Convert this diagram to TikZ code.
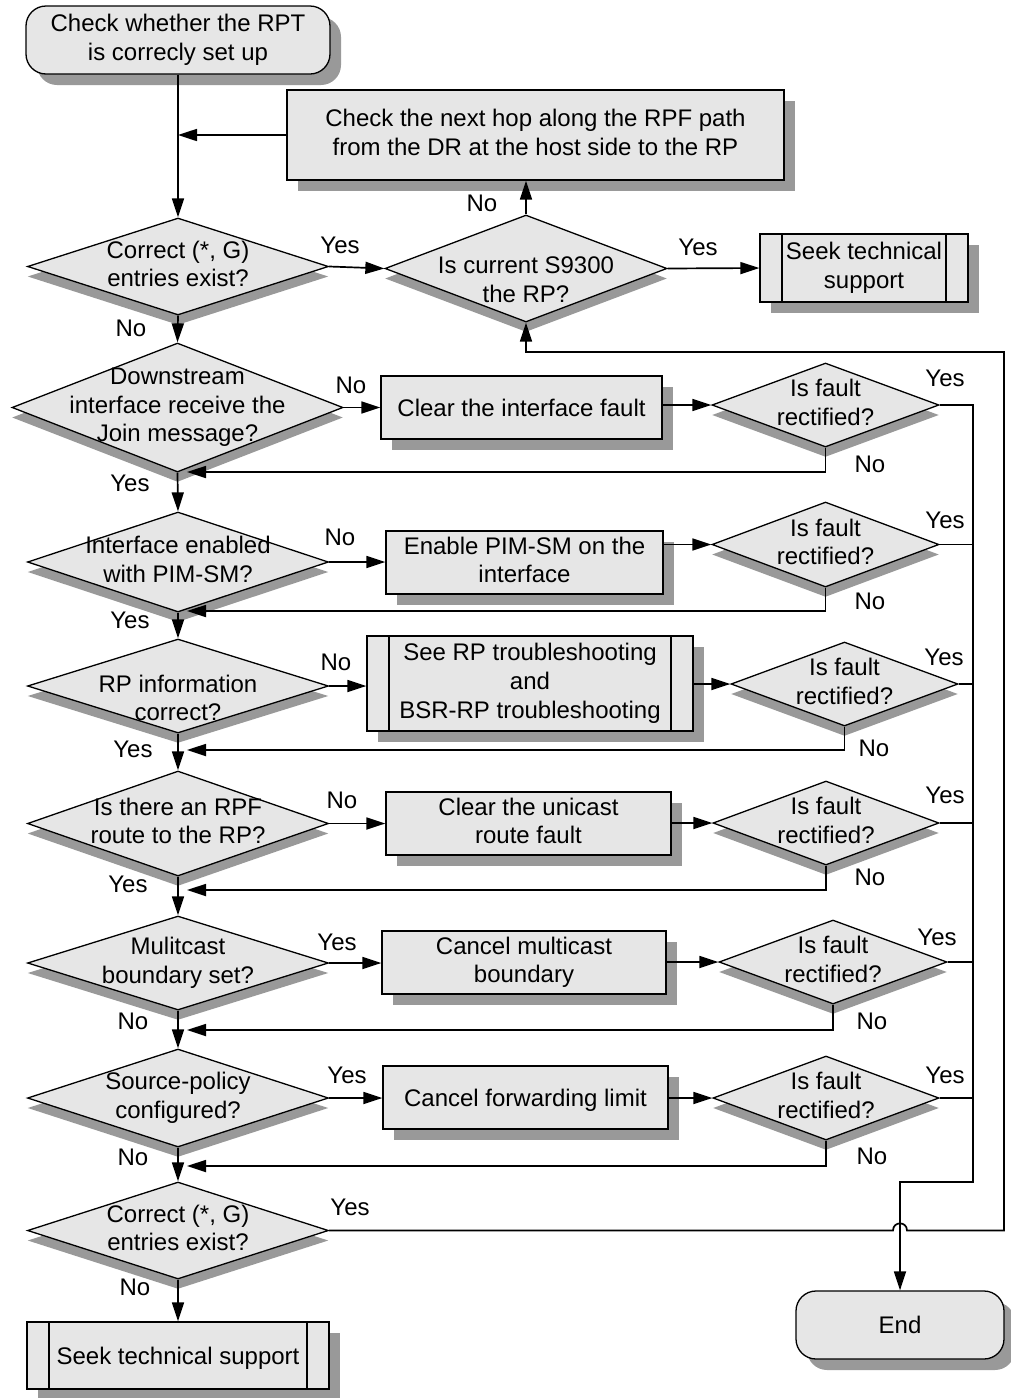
\documentclass[tikz,border=0pt]{standalone}
\usepackage{fontspec}
\setmainfont{Liberation Sans}
\usetikzlibrary{shapes.geometric,shadows,arrows.meta}
\definecolor{boxfill}{RGB}{230,230,230}
\definecolor{shadowc}{RGB}{153,153,153}
% strut that centres a text block on its cap height
\newcommand\lstrut{\rule[-5.3pt]{0pt}{27.8pt}}
\begin{document}
\begin{tikzpicture}[x=1pt,y=-1pt,
  every node/.style={font=\fontsize{24pt}{28.8pt}\selectfont},
  txt/.style={align=center, inner sep=0pt, execute at begin node=\lstrut, execute at end node=\lstrut},
  shapebase/.style={draw, line width=1.3pt, fill=boxfill, inner sep=0pt},
  box/.style={shapebase, txt, rectangle,
    drop shadow={shadow xshift=11pt, shadow yshift=-11pt, fill=shadowc, opacity=1}},
  term/.style={box, rounded corners=20pt},
  proc/.style={box, path picture={
    \draw[line width=1.3pt]
      ([xshift=22pt]path picture bounding box.north west) -- ([xshift=22pt]path picture bounding box.south west)
      ([xshift=-22pt]path picture bounding box.north east) -- ([xshift=-22pt]path picture bounding box.south east);}},
  dec/.style={shapebase, diamond,
    drop shadow={shadow xshift=0pt, shadow yshift=-10pt, fill=shadowc, opacity=1}},
  conn/.style={line width=1.7pt},
  arr/.style={conn, -{Triangle[length=19pt,width=12pt]}},
]
\useasboundingbox (0,0) rectangle (1011,1398);

% ---------- main column and side boxes ----------
\node[term, minimum width=304pt, minimum height=68pt] (start) at (178,40) {Check whether the RPT\\is correcly set up};
\node[box, minimum width=497pt, minimum height=90pt] (hop) at (535.5,135) {Check the next hop along the RPF path\\from the DR at the host side to the RP};

\node[dec, minimum width=301pt, minimum height=97pt] (q1) at (178,266.5) {};
\node[txt] (q1t) at (q1) {Correct (*, G)\\entries exist?};
\node[dec, minimum width=282pt, minimum height=107pt] (q2) at (526,268.5) {};
\node[txt] (q2t) at (526,282.5) {Is current S9300\\the RP?};
\node[proc, minimum width=208pt, minimum height=68pt] (seek1) at (864,268) {Seek technical\\support};

\node[dec, minimum width=331pt, minimum height=129pt] (q3) at (177.5,407.5) {};
\node[txt] (q3t) at (q3) {Downstream\\interface receive the\\Join message?};
\node[box, minimum width=281pt, minimum height=63pt] (fix1) at (521.5,407.5) {Clear the interface fault};
\node[dec, minimum width=227pt, minimum height=84pt] (f1) at (825.5,405) {};
\node[txt] (f1t) at (f1) {Is fault\\rectified?};

\node[dec, minimum width=301pt, minimum height=100pt] (q4) at (178,562) {};
\node[txt] (q4t) at (q4) {Interface enabled\\with PIM-SM?};
\node[box, minimum width=277pt, minimum height=63pt] (fix2) at (524.5,562.5) {Enable PIM-SM on the\\interface};
\node[dec, minimum width=227pt, minimum height=85pt] (f2) at (825.5,544.5) {};
\node[txt] (f2t) at (f2) {Is fault\\rectified?};

\node[dec, minimum width=301pt, minimum height=94pt] (q5) at (178,686) {};
\node[txt] (q5t) at (178,700.5) {RP information\\correct?};
\node[proc, minimum width=326pt, minimum height=95pt] (fix3) at (530,683.5) {See RP troubleshooting\\and\\BSR-RP troubleshooting};
\node[dec, minimum width=227pt, minimum height=84pt] (f3) at (844.5,684) {};
\node[txt] (f3t) at (f3) {Is fault\\rectified?};

\node[dec, minimum width=301pt, minimum height=105pt] (q6) at (178,823.5) {};
\node[txt] (q6t) at (q6) {Is there an RPF\\route to the RP?};
\node[box, minimum width=285pt, minimum height=63pt] (fix4) at (528.5,823.5) {Clear the unicast\\route fault};
\node[dec, minimum width=226pt, minimum height=84pt] (f4) at (826,823) {};
\node[txt] (f4t) at (f4) {Is fault\\rectified?};

\node[dec, minimum width=301pt, minimum height=94pt] (q7) at (178,963) {};
\node[txt] (q7t) at (q7) {Mulitcast\\boundary set?};
\node[box, minimum width=284pt, minimum height=63pt] (fix5) at (524,962.5) {Cancel multicast\\boundary};
\node[dec, minimum width=228pt, minimum height=84pt] (f5) at (833,962) {};
\node[txt] (f5t) at (f5) {Is fault\\rectified?};

\node[dec, minimum width=301pt, minimum height=98pt] (q8) at (178,1098) {};
\node[txt] (q8t) at (q8) {Source-policy\\configured?};
\node[box, minimum width=285pt, minimum height=63pt] (fix6) at (525.5,1097.5) {Cancel forwarding limit};
\node[dec, minimum width=226pt, minimum height=84pt] (f6) at (826,1098) {};
\node[txt] (f6t) at (f6) {Is fault\\rectified?};

\node[dec, minimum width=301pt, minimum height=97pt] (q9) at (178,1230.5) {};
\node[txt] (q9t) at (q9) {Correct (*, G)\\entries exist?};
\node[proc, minimum width=302pt, minimum height=67pt] (seek2) at (178,1355.5) {Seek technical support};
\node[term, minimum width=208pt, minimum height=68pt] (end) at (900,1325) {End};

% ---------- helper coordinates ----------
\coordinate (busBot) at (973,1182);
\coordinate (loopTop) at (1004,352);
\coordinate (ret1) at (187,472);
\coordinate (ret2) at (187,611);
\coordinate (ret3) at (187,750);
\coordinate (ret4) at (187,890);
\coordinate (ret5) at (187,1030);
\coordinate (ret6) at (187,1166);

% ---------- main flow ----------
\draw[arr] (start.south) -- (q1.north);
\draw[arr] (hop.west) -- (hop.west -| start.south);
\draw[arr] (q1.east) -- (q2.west);
\draw[arr] (q2.north) -- (q2.north |- hop.south);
\draw[arr] (q2.east) -- (seek1.west);
\draw[arr] (q1.south) -- (q3.north);
\draw[arr] (q3.south) -- (q4.north);
\draw[arr] (q4.south) -- (q5.north);
\draw[arr] (q5.south) -- (q6.north);
\draw[arr] (q6.south) -- (q7.north);
\draw[arr] (q7.south) -- (q8.north);
\draw[arr] (q8.south) -- (q9.north);
\draw[arr] (q9.south) -- (seek2.north);

% ---------- branches to the fixes ----------
\draw[arr] (q3.east) -- (q3.east -| fix1.west);
\draw[arr] (fix1.east |- f1.west) -- (f1.west);
\draw[arr] (q4.east) -- (q4.east -| fix2.west);
\draw[arr] (fix2.east |- f2.west) -- (f2.west);
\draw[arr] (q5.east) -- (q5.east -| fix3.west);
\draw[arr] (fix3.east |- f3.west) -- (f3.west);
\draw[arr] (q6.east) -- (q6.east -| fix4.west);
\draw[arr] (fix4.east |- f4.west) -- (f4.west);
\draw[arr] (q7.east) -- (q7.east -| fix5.west);
\draw[arr] (fix5.east |- f5.west) -- (f5.west);
\draw[arr] (q8.east) -- (q8.east -| fix6.west);
\draw[arr] (fix6.east |- f6.west) -- (f6.west);

% ---------- "No" returns to the main column ----------
\draw[arr] (f1.south) -- (f1.south |- ret1) -- (ret1);
\draw[arr] (f2.south) -- (f2.south |- ret2) -- (ret2);
\draw[arr] (f3.south) -- (f3.south |- ret3) -- (ret3);
\draw[arr] (f4.south) -- (f4.south |- ret4) -- (ret4);
\draw[arr] (f5.south) -- (f5.south |- ret5) -- (ret5);
\draw[arr] (f6.south) -- (f6.south |- ret6) -- (ret6);

% ---------- "Yes" bus to End ----------
\draw[arr] (f1.east) -- (f1.east -| busBot) -- (busBot) -- (busBot -| end.north) -- (end.north);
\draw[conn] (f2.east) -- (f2.east -| busBot);
\draw[conn] (f3.east) -- (f3.east -| busBot);
\draw[conn] (f4.east) -- (f4.east -| busBot);
\draw[conn] (f5.east) -- (f5.east -| busBot);
\draw[conn] (f6.east) -- (f6.east -| busBot);

% ---------- outer loop back to the RP check, hopping over the End line ----------
\draw[arr] (q9.east) -- (893,1230.5) .. controls (893,1221) and (907,1221) .. (907,1230.5)
  -- (loopTop |- q9.east) -- (loopTop) -- (loopTop -| q2.south) -- (q2.south);

% ---------- branch labels ----------
\node[txt] (y1) at (340,245) {Yes};
\node[txt] (n1) at (482,203) {No};
\node[txt] (y2) at (698,247) {Yes};
\node[txt] (n2) at (131,328) {No};
\node[txt] (n3) at (351,385) {No};
\node[txt] (y3) at (130,483) {Yes};
\node[txt] (n4) at (340,537) {No};
\node[txt] (y4) at (130,620) {Yes};
\node[txt] (n5) at (336,662) {No};
\node[txt] (y5) at (133,749) {Yes};
\node[txt] (n6) at (342,800) {No};
\node[txt] (y6) at (128,884) {Yes};
\node[txt] (y7) at (337,942) {Yes};
\node[txt] (n7) at (133,1021) {No};
\node[txt] (y8) at (347,1075) {Yes};
\node[txt] (n8) at (133,1157) {No};
\node[txt] (y9) at (350,1207) {Yes};
\node[txt] (n9) at (135,1287) {No};

\node[txt] (fy1) at (945,378) {Yes};
\node[txt] (fn1) at (870,464) {No};
\node[txt] (fy2) at (945,520) {Yes};
\node[txt] (fn2) at (870,601) {No};
\node[txt] (fy3) at (944,657) {Yes};
\node[txt] (fn3) at (874,748) {No};
\node[txt] (fy4) at (945,795) {Yes};
\node[txt] (fn4) at (870,877) {No};
\node[txt] (fy5) at (937,937) {Yes};
\node[txt] (fn5) at (872,1021) {No};
\node[txt] (fy6) at (945,1075) {Yes};
\node[txt] (fn6) at (872,1156) {No};
\end{tikzpicture}
\end{document}
